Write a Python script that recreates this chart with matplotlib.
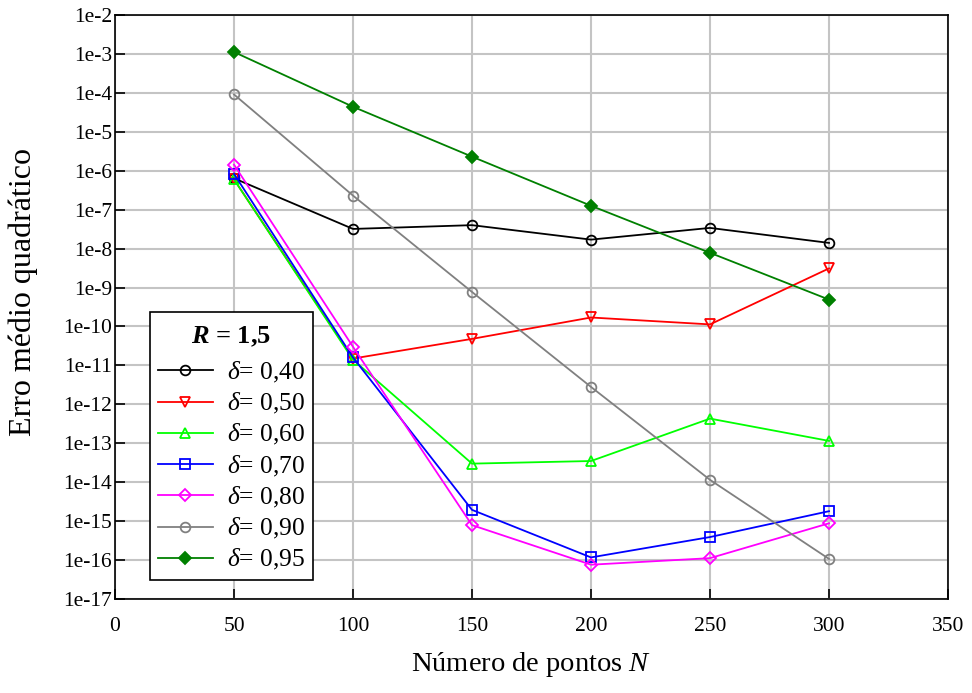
import matplotlib
matplotlib.use("Agg")
import matplotlib.pyplot as plt
from matplotlib.offsetbox import VPacker

plt.rcParams['font.family'] = ['Liberation Serif', 'DejaVu Serif']
plt.rcParams['mathtext.fontset'] = 'custom'
plt.rcParams['mathtext.rm'] = 'Liberation Serif'
plt.rcParams['mathtext.it'] = 'Liberation Serif:italic'
plt.rcParams['mathtext.bf'] = 'Liberation Serif:italic:bold'

N = [50, 100, 150, 200, 250, 300]

err_040 = [6.4e-7, 3.2e-8, 4.0e-8, 1.7e-8, 3.4e-8, 1.4e-8]
err_050 = [6.0e-7, 1.5e-11, 4.8e-11, 1.7e-10, 1.13e-10, 3.1e-9]
err_060 = [6.0e-7, 1.4e-11, 3.0e-14, 3.5e-14, 4.3e-13, 1.15e-13]
err_070 = [8.3e-7, 1.6e-11, 1.95e-15, 1.17e-16, 3.9e-16, 1.8e-15]
err_080 = [1.43e-6, 3.0e-11, 7.9e-16, 7.6e-17, 1.12e-16, 8.8e-16]
err_090 = [9.1e-5, 2.3e-7, 7.7e-10, 2.8e-12, 1.15e-14, 1.07e-16]
err_095 = [1.12e-3, 4.4e-5, 2.3e-6, 1.26e-7, 7.8e-9, 4.9e-10]

series = [
    ("0,40", err_040, "black", "o", "none"),
    ("0,50", err_050, "#ff0000", "v", "none"),
    ("0,60", err_060, "#00ff00", "^", "none"),
    ("0,70", err_070, "#0000ff", "s", "none"),
    ("0,80", err_080, "#ff00ff", "D", "none"),
    ("0,90", err_090, "#808080", "o", "none"),
    ("0,95", err_095, "#008000", "D", "#008000"),
]

fig = plt.figure(figsize=(9.72, 6.93), dpi=100)
ax = fig.add_axes([115/972, 1 - 599/693, 833/972, 584/693])

for lab, vals, col, mk, fc in series:
    ms = 6 if mk == "D" else 7
    ax.plot(N, vals, color=col, lw=1.3, marker=mk, markersize=ms,
            markerfacecolor=fc, markeredgecolor=col, markeredgewidth=1.3,
            label=r"$\delta$" + "= " + lab)

ax.set_yscale('log')
ax.set_xlim(0, 350)
ax.set_ylim(1e-17, 1e-2)
ax.set_xticks([0, 50, 100, 150, 200, 250, 300, 350])
yt = [10.0**e for e in range(-17, -1)]
ax.set_yticks(yt)
ax.set_yticklabels([f"1e{e}" for e in range(-17, -1)])
ax.yaxis.set_minor_locator(matplotlib.ticker.NullLocator())
ax.tick_params(direction='in', length=7, width=1.2, labelsize=15.5)
ax.tick_params(axis='x', pad=13)
ax.tick_params(axis='y', pad=2)
ax.grid(True, color='#c4c4c4', lw=1.5)
ax.set_axisbelow(True)
for s in ax.spines.values():
    s.set_linewidth(1.2)

ax.set_xlabel(r"Número de pontos $N$", fontsize=20.5)
ax.xaxis.set_label_coords(0.5, -0.087)
ax.set_ylabel("Erro médio quadrático", fontsize=23)
ax.yaxis.set_label_coords(-0.0924, 0.526)

leg = ax.legend(loc='upper left', bbox_to_anchor=(0.042, 0.491),
                borderaxespad=0, fontsize=18.4, title=r"$\mathbf{R}$ = 1,5",
                title_fontproperties={'weight': 'bold', 'size': 19},
                fancybox=False, framealpha=1, edgecolor='black',
                handlelength=2.15, labelspacing=0.24, borderpad=0.3,
                handletextpad=0.55)
leg.get_frame().set_linewidth(1.2)

# extra vertical room around the legend title
title_pad = VPacker(children=[leg._legend_title_box], pad=3.4, sep=0,
                    align='center')
title_pad.set_figure(fig)
leg._legend_box._children[0] = title_pad

fig.savefig("out.png", dpi=100)
